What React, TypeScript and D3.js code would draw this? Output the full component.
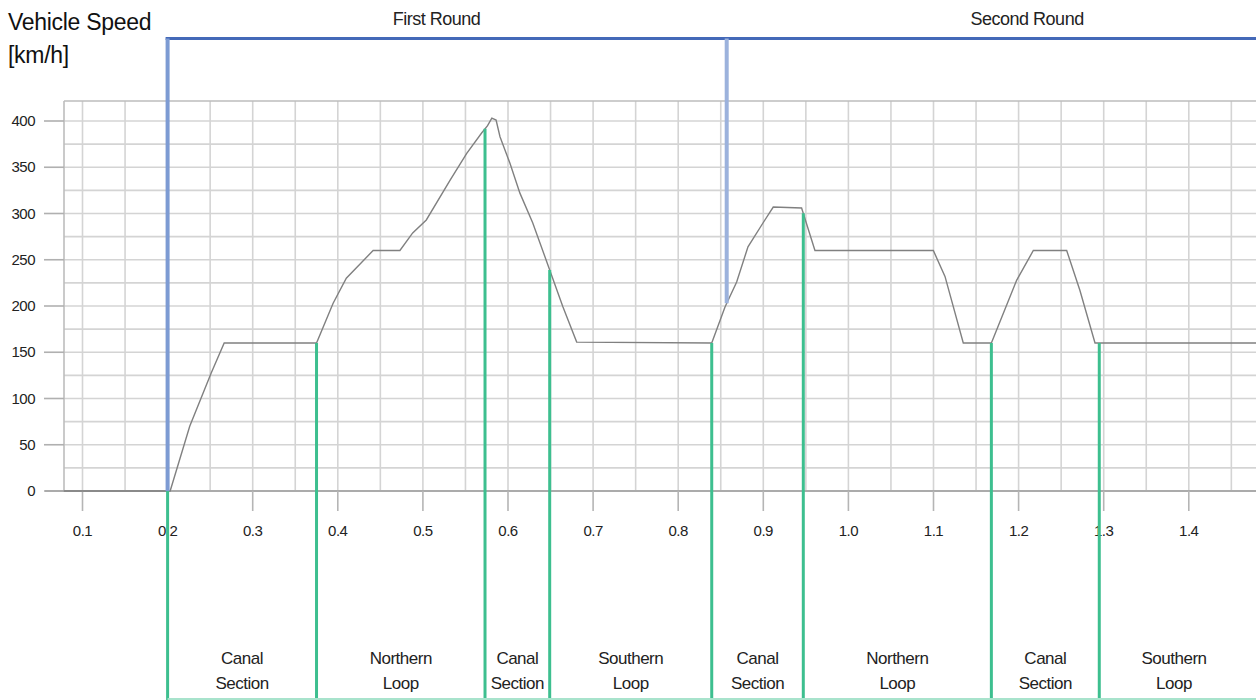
import React from "react";
import * as d3 from "d3";

// ---- data ----
const distance = [
  0.078, 0.203, 0.226, 0.251, 0.2665, 0.375, 0.3945, 0.41, 0.4415, 0.473,
  0.488, 0.504, 0.532, 0.5515, 0.569, 0.576, 0.581, 0.586, 0.5906, 0.6024,
  0.614, 0.629, 0.649, 0.6646, 0.6807, 0.8394, 0.855, 0.8687, 0.882, 0.8998,
  0.9117, 0.945, 0.9607, 1.0998, 1.1135, 1.135, 1.168, 1.1978, 1.2173, 1.2565,
  1.272, 1.2898, 1.5,
];
const speed = [
  0, 0, 70, 127, 160, 160, 203, 230, 260, 260,
  279, 293, 336, 365, 387, 395, 403, 401, 383, 354,
  322, 290, 239, 199, 161, 160, 199, 226, 264, 290,
  307, 306, 260, 260, 232, 160, 160, 228, 260, 260,
  217, 160, 160,
];
const xTicks = [0.1, 0.2, 0.3, 0.4, 0.5, 0.6, 0.7, 0.8, 0.9, 1.0, 1.1, 1.2, 1.3, 1.4];
const yTicks = [0, 50, 100, 150, 200, 250, 300, 350, 400];
const sectionBounds = [0.2, 0.375, 0.573, 0.649, 0.8394, 0.947, 1.168, 1.2948, 1.4705];
const sectionNames = [
  ["Canal", "Section"],
  ["Northern", "Loop"],
  ["Canal", "Section"],
  ["Southern", "Loop"],
  ["Canal", "Section"],
  ["Northern", "Loop"],
  ["Canal", "Section"],
  ["Southern", "Loop"],
];
const roundStarts = [0.2, 0.857];
const roundNames = ["First Round", "Second Round"];
const roundLabelAt = [0.516, 1.21];

const W = 1256;
const H = 700;
const FONT = "'Liberation Sans', Arial, sans-serif";

export default function App() {
  const x = d3.scaleLinear().domain([0.1, 1.4]).range([82.5, 1188.8]);
  const y = d3.scaleLinear().domain([0, 400]).range([491, 121]);
  const left = 64;
  const top = 101;
  const bottom = y(0);

  const pts = distance.map((d, i) => [d, speed[i]] as [number, number]);
  const speedAt = (v: number) => {
    for (let i = 0; i < distance.length - 1; i++) {
      if (v >= distance[i] && v <= distance[i + 1]) {
        const t = (v - distance[i]) / (distance[i + 1] - distance[i]);
        return speed[i] + t * (speed[i + 1] - speed[i]);
      }
    }
    return 0;
  };

  const line = d3
    .line<[number, number]>()
    .x((d) => x(d[0]))
    .y((d) => y(d[1]));

  const vGrid = d3.range(2, 31).map((k) => k * 0.05);
  const hGrid = d3.range(1, 17).map((k) => k * 25);

  const blueTopY = 38.5;

  return (
    <svg
      width={W}
      height={H}
      style={{ position: "absolute", left: 0, top: 0, display: "block", background: "#fff" }}
    >
      {/* grid */}
      {vGrid.map((v) => (
        <line key={"vg" + v} x1={x(v)} x2={x(v)} y1={top} y2={bottom} stroke="#d4d4d4" strokeWidth={1.6} />
      ))}
      {hGrid.map((v) => (
        <line key={"hg" + v} x1={left} x2={W} y1={y(v)} y2={y(v)} stroke="#d4d4d4" strokeWidth={1.6} />
      ))}
      {/* frame */}
      <line x1={left} x2={W} y1={top} y2={top} stroke="#bdbdbd" strokeWidth={1.6} />
      <line x1={left} x2={left} y1={top} y2={bottom} stroke="#bdbdbd" strokeWidth={1.6} />
      {/* y ticks */}
      {yTicks.map((v) => (
        <g key={"yt" + v}>
          <line x1={44} x2={left} y1={y(v)} y2={y(v)} stroke="#b0b0b0" strokeWidth={1.6} />
          <text x={35} y={y(v) + 5} textAnchor="end" fontFamily={FONT} fontSize={15} fill="#222" letterSpacing={-0.5}>
            {v}
          </text>
        </g>
      ))}
      {/* x axis */}
      <line x1={45} x2={W} y1={bottom} y2={bottom} stroke="#ababab" strokeWidth={2} />
      {xTicks.map((v) => (
        <g key={"xt" + v}>
          <line x1={x(v)} x2={x(v)} y1={bottom} y2={bottom + 20} stroke="#b5b5b5" strokeWidth={1.6} />
          <text x={x(v)} y={536} textAnchor="middle" fontFamily={FONT} fontSize={15} fill="#222" letterSpacing={-0.5}>
            {v.toFixed(1)}
          </text>
        </g>
      ))}

      {/* speed curve */}
      <path d={line(pts) || ""} fill="none" stroke="#808080" strokeWidth={1.4} />

      {/* section dividers */}
      {sectionBounds.slice(0, -1).map((v, i) => (
        <line
          key={"sb" + i}
          x1={x(v)}
          x2={x(v)}
          y1={y(speedAt(v))}
          y2={H}
          stroke="#3dbf8f"
          strokeWidth={3}
        />
      ))}
      <line x1={x(sectionBounds[0])} x2={W} y1={H - 1} y2={H - 1} stroke="#a8e3cc" strokeWidth={2} />

      {/* section labels */}
      {sectionNames.map((nm, i) => {
        const cx = (x(sectionBounds[i]) + x(sectionBounds[i + 1])) / 2;
        return (
          <g key={"sn" + i}>
            <text x={cx} y={664} textAnchor="middle" fontFamily={FONT} fontSize={17} fill="#222" letterSpacing={-0.5}>
              {nm[0]}
            </text>
            <text x={cx} y={689} textAnchor="middle" fontFamily={FONT} fontSize={17} fill="#222" letterSpacing={-0.5}>
              {nm[1]}
            </text>
          </g>
        );
      })}

      {/* round markers */}
      <line x1={x(roundStarts[0]) - 2} x2={W} y1={blueTopY} y2={blueTopY} stroke="#4469b8" strokeWidth={3} />
      {roundStarts.map((v, i) => (
        <line
          key={"rs" + i}
          x1={x(v)}
          x2={x(v)}
          y1={blueTopY}
          y2={y(speedAt(v))}
          stroke={i === 0 ? "#7d9bd3" : "#9cb2dc"}
          strokeWidth={4}
        />
      ))}
      {roundNames.map((nm, i) => (
        <text key={"rn" + i} x={x(roundLabelAt[i])} y={25} textAnchor="middle" fontFamily={FONT} fontSize={18} fill="#222" letterSpacing={-0.5}>
          {nm}
        </text>
      ))}

      {/* title */}
      <text x={8} y={30} fontFamily={FONT} fontSize={23} fill="#111" letterSpacing={-0.3}>
        Vehicle Speed
      </text>
      <text x={8} y={63} fontFamily={FONT} fontSize={23} fill="#111" letterSpacing={-0.3}>
        [km/h]
      </text>
    </svg>
  );
}
